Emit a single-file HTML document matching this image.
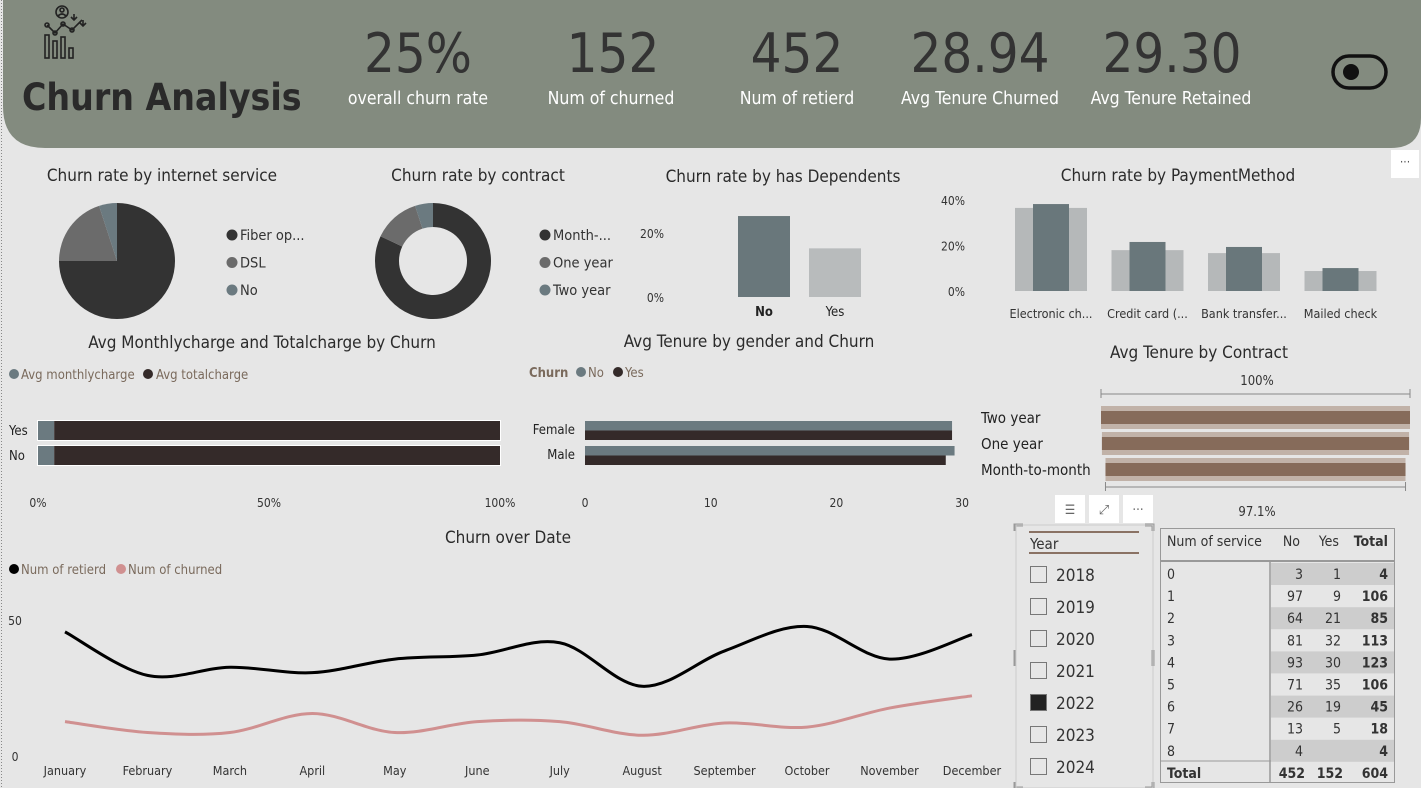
<!DOCTYPE html>
<html><head><meta charset="utf-8"><style>
html,body{margin:0;padding:0;background:#e6e6e6;}
body{width:1421px;height:788px;position:relative;overflow:hidden;font-family:"Liberation Sans Narrow","DejaVu Sans Condensed","Liberation Sans",sans-serif;}
svg{position:absolute;left:0;top:0;}
text{font-family:"Liberation Sans Narrow","DejaVu Sans Condensed","Liberation Sans",sans-serif;}
.t{font-size:17px;fill:#2b2b2b;text-anchor:middle;}
</style></head><body>
<svg id="c" width="1421" height="788" viewBox="0 0 1421 788">
<line x1="1.5" y1="0" x2="1.5" y2="788" stroke="#888" stroke-dasharray="1,2"/>
<path d="M3 0 H1421 V118 Q1421 148 1391 148 H45 Q3 148 3 106 Z" fill="#838b7f"/>
<g fill="none" stroke="#222" stroke-width="1.6">
<circle cx="62" cy="12" r="6"/><circle cx="62" cy="10" r="2"/><path d="M58 16 q4-4 8 0"/>
<rect x="45" y="35" width="4" height="23"/><rect x="53" y="41" width="4" height="17"/><rect x="61" y="37" width="4" height="21"/><rect x="69" y="48" width="4" height="10"/>
<path d="M47 25 L55 33 L63 24 L72 30 L82 20"/><circle cx="47" cy="25" r="2"/><circle cx="55" cy="33" r="2"/><circle cx="63" cy="24" r="2"/><circle cx="72" cy="30" r="2"/>
<path d="M74 14 v6 M71 17 l3 3 3-3 M83 20 v6 M80 23 l3 3 3-3"/>
</g>
<text x="22" y="110" font-family="Liberation Sans" font-weight="bold" font-size="37" fill="#2a2a2a">Churn Analysis</text>
<g font-size="54" fill="#333" text-anchor="middle">
<text x="418" y="72">25%</text>
<text x="613" y="72">152</text>
<text x="797" y="72">452</text>
<text x="980" y="72">28.94</text>
<text x="1172" y="72">29.30</text>
</g>
<g font-size="17.5" fill="#fff" text-anchor="middle">
<text x="418" y="104">overall churn rate</text><text x="611" y="104">Num of churned</text><text x="797" y="104">Num of retierd</text><text x="980" y="104">Avg Tenure Churned</text><text x="1171" y="104">Avg Tenure Retained</text>
</g>
<g><rect x="1333" y="56" width="53" height="32" rx="16" fill="none" stroke="#111" stroke-width="3.5"/><circle cx="1351" cy="72" r="8" fill="#111"/></g>
<g><rect x="1391" y="150" width="28" height="28" fill="#fff"/><text x="1405" y="166" font-size="12" text-anchor="middle" fill="#555">···</text></g>

<text class="t" x="162" y="181">Churn rate by internet service</text>
<text class="t" x="478" y="181">Churn rate by contract</text>
<text class="t" x="783" y="182">Churn rate by has Dependents</text>
<text class="t" x="1178" y="181">Churn rate by PaymentMethod</text>
<text class="t" x="262" y="348">Avg Monthlycharge and Totalcharge by Churn</text>
<text class="t" x="749" y="347">Avg Tenure by gender and Churn</text>
<text class="t" x="1199" y="358">Avg Tenure by Contract</text>
<text class="t" x="508" y="543">Churn over Date</text>
<g id="charts"></g>
</svg>
<script>
// ---- data ----
const internetCats=["Fiber op...","DSL","No"];
const internetVals=[75,20,5];
const contractCats=["Month-...","One year","Two year"];
const contractVals=[82,13,5];
const depCats=["No","Yes"];
const depVals=[25.3,15.2];
const depTicks=[0,20];
const payCats=["Electronic ch...","Credit card (...","Bank transfer...","Mailed check"];
const payChurn=[38.3,21.6,19.4,10.1];
const payBg=[36.6,18.0,16.7,8.8];
const payTicks=[0,20,40];
const chargeCats=["Yes","No"];
const chargeMonthly=[3.5,3.5];
const chargeTotal=[96.5,96.5];
const chargeTicks=[0,50,100];
const genderCats=["Female","Male"];
const genderNo=[29.2,29.4];
const genderYes=[29.2,28.7];
const genderTicks=[0,10,20,30];
const ctCats=["Two year","One year","Month-to-month"];
const ctVals=[100,99.4,97.1];
const months=["January","February","March","April","May","June","July","August","September","October","November","December"];
const retired=[46,30,33,31,36,37.5,42,26,39,48,36,45];
const churned=[13,9,9,16,9,13,13,8,12.5,11,18,22.5];
const lineTicks=[0,50];
const years=["2018","2019","2020","2021","2022","2023","2024"];
const selectedYears=["2022"];
const svcRows=["0","1","2","3","4","5","6","7","8"];
const svcNo=[3,97,64,81,93,71,26,13,4];
const svcYes=[1,9,21,32,30,35,19,5,null];

const NS="http://www.w3.org/2000/svg";
const root=document.getElementById('charts');
function el(tag,attrs,parent,txt){const e=document.createElementNS(NS,tag);for(const k in attrs)e.setAttribute(k,attrs[k]);if(txt!==undefined)e.textContent=txt;(parent||root).appendChild(e);return e;}
function grp(name){const g=el('g',{});return g;}

// ---- pies ----
function pie(cx,cy,r,ri,vals,cols,name){
  const g=grp(name);const tot=vals.reduce((a,b)=>a+b,0);let a0=-Math.PI/2;
  vals.forEach((v,i)=>{const a1=a0+v/tot*2*Math.PI;const lg=(a1-a0)>Math.PI?1:0;
    const p=`M${cx+r*Math.cos(a0)} ${cy+r*Math.sin(a0)} A${r} ${r} 0 ${lg} 1 ${cx+r*Math.cos(a1)} ${cy+r*Math.sin(a1)} `+
      (ri?`L${cx+ri*Math.cos(a1)} ${cy+ri*Math.sin(a1)} A${ri} ${ri} 0 ${lg} 0 ${cx+ri*Math.cos(a0)} ${cy+ri*Math.sin(a0)} Z`:`L${cx} ${cy} Z`);
    const s=el('path',{d:p,fill:cols[i]},g);
    
    
    a0=a1;});
  return g;}
const pieCols=["#333333","#6b6b6b","#6b7a80"];
pie(117,261,58,0,internetVals,pieCols,'internet-service-pie');
pie(433,261,58,34,contractVals,pieCols,'contract-donut');
function legendV(x,y0,cats,name){const g=grp(name);cats.forEach((c,i)=>{const y=y0+i*27.5;el('circle',{cx:x,cy:y,r:5.5,fill:pieCols[i]},g);
  const t=el('text',{x:x+8,y:y+5,'font-size':14.5,fill:'#333'},g,c);
  
  });}
legendV(232,235,internetCats,'internet-legend');
legendV(545,235,contractCats,'contract-legend');

// ---- dependents ----
(function(){const g=grp('dependents-chart');const y0=297,k=3.2;const y=v=>y0-v*k;
  depTicks.forEach(t=>el('text',{x:664,y:y(t)+5,'font-size':12,fill:'#333','text-anchor':'end'},g,t+'%'));
  depVals.forEach((v,i)=>{const x=738+i*71;const b=el('rect',{x:x,y:y(v),width:52,height:v*k,fill:i==0?'#69777b':'#b8bbbc'},g);
    
    
    el('text',{x:x+26,y:316,'font-size':13,'text-anchor':'middle',fill:'#222','font-weight':i==0?'bold':'normal'},g,depCats[i]);});})();

// ---- payment ----
(function(){const g=grp('payment-chart');const y0=291,k=2.27;const y=v=>y0-v*k;
  payTicks.forEach(t=>el('text',{x:965,y:y(t)+5,'font-size':12,fill:'#333','text-anchor':'end'},g,t+'%'));
  payCats.forEach((c,i)=>{const cx=1051+i*96.5;
    el('rect',{x:cx-36,y:y(payBg[i]),width:72,height:payBg[i]*k,fill:'#b5b8b9'},g);
    const b=el('rect',{x:cx-18,y:y(payChurn[i]),width:36,height:payChurn[i]*k,fill:'#69777b'},g);
    
    
    el('text',{x:cx,y:318,'font-family':'Liberation Sans','font-size':12.5,'text-anchor':'middle',fill:'#333'},g,c);});})();

// ---- charges ----
(function(){const g=grp('charges-chart');const x0=38,w=462;const x=v=>x0+v/100*w;
  el('circle',{cx:14,cy:374,r:5,fill:'#6b7a80'},g);el('text',{x:21,y:379,'font-size':13,fill:'#7a6a5c'},g,'Avg monthlycharge');
  el('circle',{cx:148,cy:374,r:5,fill:'#342a29'},g);el('text',{x:156,y:379,'font-size':13,fill:'#7a6a5c'},g,'Avg totalcharge');
  chargeCats.forEach((c,i)=>{const yy=421+i*25;
    el('rect',{x:x0-1,y:yy-1,width:w+2,height:21,fill:'#fff'},g);
    const a=el('rect',{x:x(0),y:yy,width:x(chargeMonthly[i])-x(0),height:19,fill:'#6b7a80'},g);
    
    
    const b=el('rect',{x:x(chargeMonthly[i]),y:yy,width:x(chargeMonthly[i]+chargeTotal[i])-x(chargeMonthly[i]),height:19,fill:'#342a29'},g);
    
    
    el('text',{x:9,y:yy+14,'font-size':13,fill:'#222'},g,c);});
  chargeTicks.forEach(t=>el('text',{x:x(t),y:507,'font-size':12,fill:'#333','text-anchor':'middle'},g,t+'%'));})();

// ---- gender ----
(function(){const g=grp('gender-chart');const x0=585,k=12.57;const x=v=>x0+v*k;
  el('text',{x:529,y:377,'font-size':13,'font-weight':'bold',fill:'#7a6a5c'},g,'Churn');
  el('circle',{cx:581,cy:372,r:5,fill:'#6b7a80'},g);el('text',{x:588,y:377,'font-size':13,fill:'#7a6a5c'},g,'No');
  el('circle',{cx:618,cy:372,r:5,fill:'#342a29'},g);el('text',{x:625,y:377,'font-size':13,fill:'#7a6a5c'},g,'Yes');
  genderCats.forEach((c,i)=>{const yy=421+i*25;
    const a=el('rect',{x:x0,y:yy,width:genderNo[i]*k,height:9.5,fill:'#6b7a80'},g);
    
    
    const b=el('rect',{x:x0,y:yy+9.5,width:genderYes[i]*k,height:9.5,fill:'#342a29'},g);
    
    
    el('text',{x:575,y:yy+13,'font-size':13,fill:'#222','text-anchor':'end'},g,c);});
  genderTicks.forEach(t=>el('text',{x:x(t),y:507,'font-size':12,fill:'#333','text-anchor':'middle'},g,t));})();

// ---- tenure by contract ----
(function(){const g=grp('contract-tenure-chart');const x0=1101,w=309;const x=v=>x0+v/100*w;
  el('text',{x:1257,y:385,'font-size':13,fill:'#333','text-anchor':'middle'},g,'100%');
  el('path',{d:`M${x0} 389 v9 M${x0} 394 H${x0+w} M${x0+w} 389 v9`,stroke:'#888',fill:'none'},g);
  ctCats.forEach((c,i)=>{const yy=406+i*26;const xs=x0+(100-ctVals[i])/100*w*0.5;
    el('rect',{x:xs,y:yy,width:x(ctVals[i])-x0,height:23,fill:'#c1b2a8'},g);
    const b=el('rect',{x:xs,y:yy+5,width:x(ctVals[i])-x0,height:13,fill:'#866b5a'},g);
    
    
    el('text',{x:981,y:yy+17,'font-size':15,fill:'#222'},g,c);});
  const mn=Math.min(...ctVals);const xs=x0+(100-mn)/100*w*0.5;
  el('path',{d:`M${xs} 482 v9 M${xs} 487 H${xs+mn/100*w} M${xs+mn/100*w} 482 v9`,stroke:'#888',fill:'none'},g);
  el('text',{x:1257,y:516,'font-size':13,fill:'#333','text-anchor':'middle'},g,mn+'%');})();

// ---- line chart ----
(function(){const g=grp('churn-over-date-chart');const x=i=>65+i*82.45;const y=v=>757-v*2.72;
  el('circle',{cx:14,cy:569,r:5,fill:'#000'},g);el('text',{x:21,y:574,'font-size':13,fill:'#7a6a5c'},g,'Num of retierd');
  el('circle',{cx:121,cy:569,r:5,fill:'#d09090'},g);el('text',{x:128,y:574,'font-size':13,fill:'#7a6a5c'},g,'Num of churned');
  lineTicks.forEach(t=>el('text',{x:15,y:y(t)+4,'font-size':12,fill:'#333','text-anchor':'middle'},g,t));
  months.forEach((m,i)=>el('text',{x:x(i),y:775,'font-family':'Liberation Sans','font-size':12.5,fill:'#333','text-anchor':'middle'},g,m));
  function path(vals){const p=vals.map((v,i)=>[x(i),y(v)]);let d=`M${p[0][0]} ${p[0][1]}`;
    for(let i=0;i<p.length-1;i++){const p0=p[i-1]||p[i],p1=p[i],p2=p[i+1],p3=p[i+2]||p2;
      d+=` C${p1[0]+(p2[0]-p0[0])/6} ${p1[1]+(p2[1]-p0[1])/6} ${p2[0]-(p3[0]-p1[0])/6} ${p2[1]-(p3[1]-p1[1])/6} ${p2[0]} ${p2[1]}`;}return d;}
  const a=el('path',{d:path(retired),fill:'none',stroke:'#000','stroke-width':3},g);
  
  
  const b=el('path',{d:path(churned),fill:'none',stroke:'#d09090','stroke-width':3},g);
  
  })();

// ---- slicer ----
(function(){const g=grp('year-slicer');
  [[1055,'filter-icon','☰'],[1089,'focus-mode-icon','⤢'],[1123,'more-icon','···']].forEach(([xx,n,s])=>{const r=el('rect',{x:xx,y:495,width:30,height:28,fill:'#fff'},g);
    
    
    el('text',{x:xx+15,y:514,'font-size':13,fill:'#666','text-anchor':'middle'},g,s);});
  el('path',{d:'M1015 531 v-6 h8 M1145 525 h8 v6 M1015 782 v6 h8 M1145 788 h8 v-6 M1015 650 v16 M1153 650 v16',stroke:'#999','stroke-width':3,fill:'none'},g);
  el('rect',{x:1016,y:525,width:137,height:263,fill:'none',stroke:'#ccc'},g);
  el('line',{x1:1029,y1:532,x2:1139,y2:532,stroke:'#8a7264','stroke-width':2},g);
  el('line',{x1:1029,y1:553,x2:1139,y2:553,stroke:'#8a7264','stroke-width':2},g);
  el('text',{x:1030,y:549,'font-size':15,fill:'#333'},g,'Year');
  years.forEach((yr,i)=>{const yy=566+i*32;const sel=selectedYears.includes(yr);
    const c=el('rect',{x:1030.5,y:yy+0.5,width:16,height:16,fill:sel?'#222':'none',stroke:'#777'},g);
    
    
    el('text',{x:1056,y:yy+15,'font-family':'Liberation Sans','font-size':17,fill:'#333'},g,yr);});})();

// ---- table ----
(function(){const g=grp('service-table');
  el('rect',{x:1160.5,y:528.5,width:234,height:254,fill:'none',stroke:'#999'},g);
  el('line',{x1:1161,y1:561,x2:1395,y2:561,stroke:'#999','stroke-width':2},g);
  el('line',{x1:1270,y1:561,x2:1270,y2:783,stroke:'#999','stroke-width':1.5},g);
  el('line',{x1:1161,y1:761,x2:1395,y2:761,stroke:'#999'},g);
  const hs={'font-family':'Liberation Sans','font-size':14,fill:'#333'};
  el('text',Object.assign({x:1167,y:546},hs),g,'Num of service');
  el('text',Object.assign({x:1300,y:546,'text-anchor':'end'},hs),g,'No');
  el('text',Object.assign({x:1339,y:546,'text-anchor':'end'},hs),g,'Yes');
  el('text',Object.assign({x:1388,y:546,'text-anchor':'end','font-weight':'bold'},hs),g,'Total');
  svcRows.forEach((r,i)=>{const yy=563+i*22.1;
    if(i%2==0)el('rect',{x:1271,y:yy,width:123,height:22,fill:'#cdcdcd'},g);
    el('text',Object.assign({x:1167,y:yy+16},hs),g,r);
    el('text',Object.assign({x:1303,y:yy+16,'text-anchor':'end'},hs),g,svcNo[i]);
    if(svcYes[i]!=null)el('text',Object.assign({x:1341,y:yy+16,'text-anchor':'end'},hs),g,svcYes[i]);
    el('text',Object.assign({x:1388,y:yy+16,'text-anchor':'end','font-weight':'bold'},hs),g,svcNo[i]+(svcYes[i]||0));});
  const tn=svcNo.reduce((a,b)=>a+b,0),ty=svcYes.reduce((a,b)=>a+(b||0),0);
  const bs=Object.assign({},hs,{'font-weight':'bold'});
  el('text',Object.assign({x:1167,y:778},bs),g,'Total');
  el('text',Object.assign({x:1305,y:778,'text-anchor':'end'},bs),g,tn);
  el('text',Object.assign({x:1343,y:778,'text-anchor':'end'},bs),g,ty);
  el('text',Object.assign({x:1388,y:778,'text-anchor':'end'},bs),g,tn+ty);})();
</script>
</body></html>
